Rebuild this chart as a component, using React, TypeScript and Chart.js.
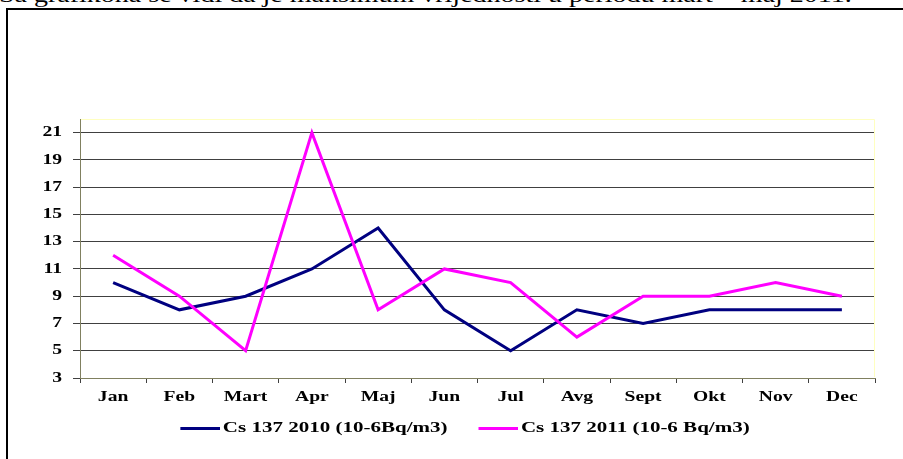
import { useEffect, useRef } from "react";
import { Chart, registerables } from "chart.js";

Chart.register(...registerables);

const MONTHS = ["Jan", "Feb", "Mart", "Apr", "Maj", "Jun", "Jul", "Avg", "Sept", "Okt", "Nov", "Dec"];
const CS_2010 = [10, 8, 9, 11, 14, 8, 5, 8, 7, 8, 8, 8];
const CS_2011 = [12, 9, 5, 21, 8, 11, 10, 6, 9, 9, 10, 9];
const Y_TICKS = [3, 5, 7, 9, 11, 13, 15, 17, 19, 21];
const LABEL_2010 = "Cs 137 2010 (10-6Bq/m3)";
const LABEL_2011 = "Cs 137 2011 (10-6 Bq/m3)";
const CAPTION = "Sa grafikona se vidi da je maksimum vrijednosti u periodu mart \u2013 maj 2011.";

const SX = 1.4;
const FONT = "'Liberation Serif', 'Times New Roman', serif";
const NAVY = "#000080";
const MAGENTA = "#FF00FF";

function lineSwatch(color: string) {
  const c = document.createElement("canvas");
  c.width = 50;
  c.height = 3;
  const g = c.getContext("2d")!;
  g.fillStyle = color;
  g.fillRect(10, 0, 40, 3);
  return c;
}

function stretchText(ctx: any) {
  const fill = ctx.fillText.bind(ctx);
  const measure = ctx.measureText.bind(ctx);
  ctx.fillText = (text: string, x: number, y: number, maxWidth?: number) => {
    ctx.save();
    ctx.translate(x, y);
    ctx.scale(SX, 1);
    if (maxWidth === undefined || maxWidth === null) fill(text, 0, 0);
    else fill(text, 0, 0, maxWidth / SX);
    ctx.restore();
  };
  ctx.measureText = (text: string) => {
    const m = measure(text);
    return {
      width: m.width * SX,
      actualBoundingBoxLeft: m.actualBoundingBoxLeft * SX,
      actualBoundingBoxRight: m.actualBoundingBoxRight * SX,
      actualBoundingBoxAscent: m.actualBoundingBoxAscent,
      actualBoundingBoxDescent: m.actualBoundingBoxDescent,
      fontBoundingBoxAscent: m.fontBoundingBoxAscent,
      fontBoundingBoxDescent: m.fontBoundingBoxDescent,
    };
  };
}

const plotFrame = {
  id: "plotFrame",
  beforeDatasetsDraw(chart: any) {
    const { ctx, chartArea: a } = chart;
    ctx.save();
    ctx.strokeStyle = "#ffffc0";
    ctx.lineWidth = 1;
    ctx.beginPath();
    ctx.moveTo(a.left + 1, a.top + 0.5);
    ctx.lineTo(a.right - 0.5, a.top + 0.5);
    ctx.lineTo(a.right - 0.5, a.bottom - 1);
    ctx.stroke();
    ctx.restore();
  },
};

export default function App() {
  const ref = useRef<HTMLCanvasElement>(null);

  useEffect(() => {
    const canvas = ref.current!;
    const ctx = canvas.getContext("2d")!;
    stretchText(ctx);
    const tickFont = { family: FONT, size: 14, weight: "bold" as const };
    const chart = new Chart(canvas, {
      type: "line",
      data: {
        labels: MONTHS,
        datasets: [
          {
            label: LABEL_2010,
            data: CS_2010,
            borderColor: NAVY,
            backgroundColor: NAVY,
            borderWidth: 3,
            pointRadius: 0,
            pointStyle: lineSwatch(NAVY) as any,
            tension: 0,
            fill: false,
            order: 1,
          },
          {
            label: LABEL_2011,
            data: CS_2011,
            borderColor: MAGENTA,
            backgroundColor: MAGENTA,
            borderWidth: 3,
            pointRadius: 0,
            pointStyle: lineSwatch(MAGENTA) as any,
            tension: 0,
            fill: false,
            order: 0,
          },
        ],
      },
      options: {
        responsive: false,
        animation: false,
        events: [],
        layout: { padding: { left: 50, right: 28, top: 119, bottom: 13 } },
        plugins: {
          legend: {
            position: "bottom",
            labels: {
              usePointStyle: true,
              pointStyleWidth: 40,
              padding: 26,
              color: "#000",
              font: { family: FONT, size: 15, weight: "bold" },
              sort: (a: any, b: any) => a.datasetIndex - b.datasetIndex,
            },
          },
          tooltip: { enabled: false },
          title: { display: false },
        },
        scales: {
          x: {
            offset: true,
            grid: { drawOnChartArea: false, offset: true, tickLength: 5, color: "#404040" },
            border: { color: "#808060" },
            ticks: { color: "#000", font: tickFont, padding: 6, maxRotation: 0, autoSkip: false },
            afterFit: (s: any) => {
              s.height = 17;
              s.paddingLeft = 0;
              s.paddingRight = 0;
              s._computeLabelArea = () => undefined;
            },
          },
          y: {
            min: 3,
            max: 22,
            afterBuildTicks: (s: any) => {
              s.ticks = Y_TICKS.map((v) => ({ value: v }));
            },
            grid: { color: "#404040", tickLength: 7 },
            border: { color: "#808060" },
            ticks: { color: "#000", font: tickFont, padding: 11 },
            afterFit: (s: any) => {
              s.width = 30;
              s.paddingTop = 0;
              s.paddingBottom = 0;
              s._computeLabelArea = () => undefined;
            },
          },
        },
      },
      plugins: [plotFrame],
    });
    return () => chart.destroy();
  }, []);

  return (
    <div
      style={{
        position: "fixed",
        left: 0,
        top: 0,
        width: 903,
        height: 459,
        overflow: "hidden",
        background: "#fff",
      }}
    >
      <div
        style={{
          position: "absolute",
          left: -1,
          top: -15,
          fontFamily: FONT,
          fontSize: 20,
          lineHeight: "21px",
          whiteSpace: "nowrap",
          transform: `scaleX(${SX})`,
          transformOrigin: "0 0",
          color: "#000",
        }}
      >
        {CAPTION}
      </div>
      <div
        style={{
          position: "absolute",
          left: 6,
          top: 8,
          width: 2000,
          height: 2000,
          borderLeft: "2px solid #000",
          borderTop: "2px solid #000",
        }}
      />
      <canvas
        ref={ref}
        width={903}
        height={459}
        style={{ position: "absolute", left: 0, top: 0, width: 903, height: 459 }}
      />
    </div>
  );
}
